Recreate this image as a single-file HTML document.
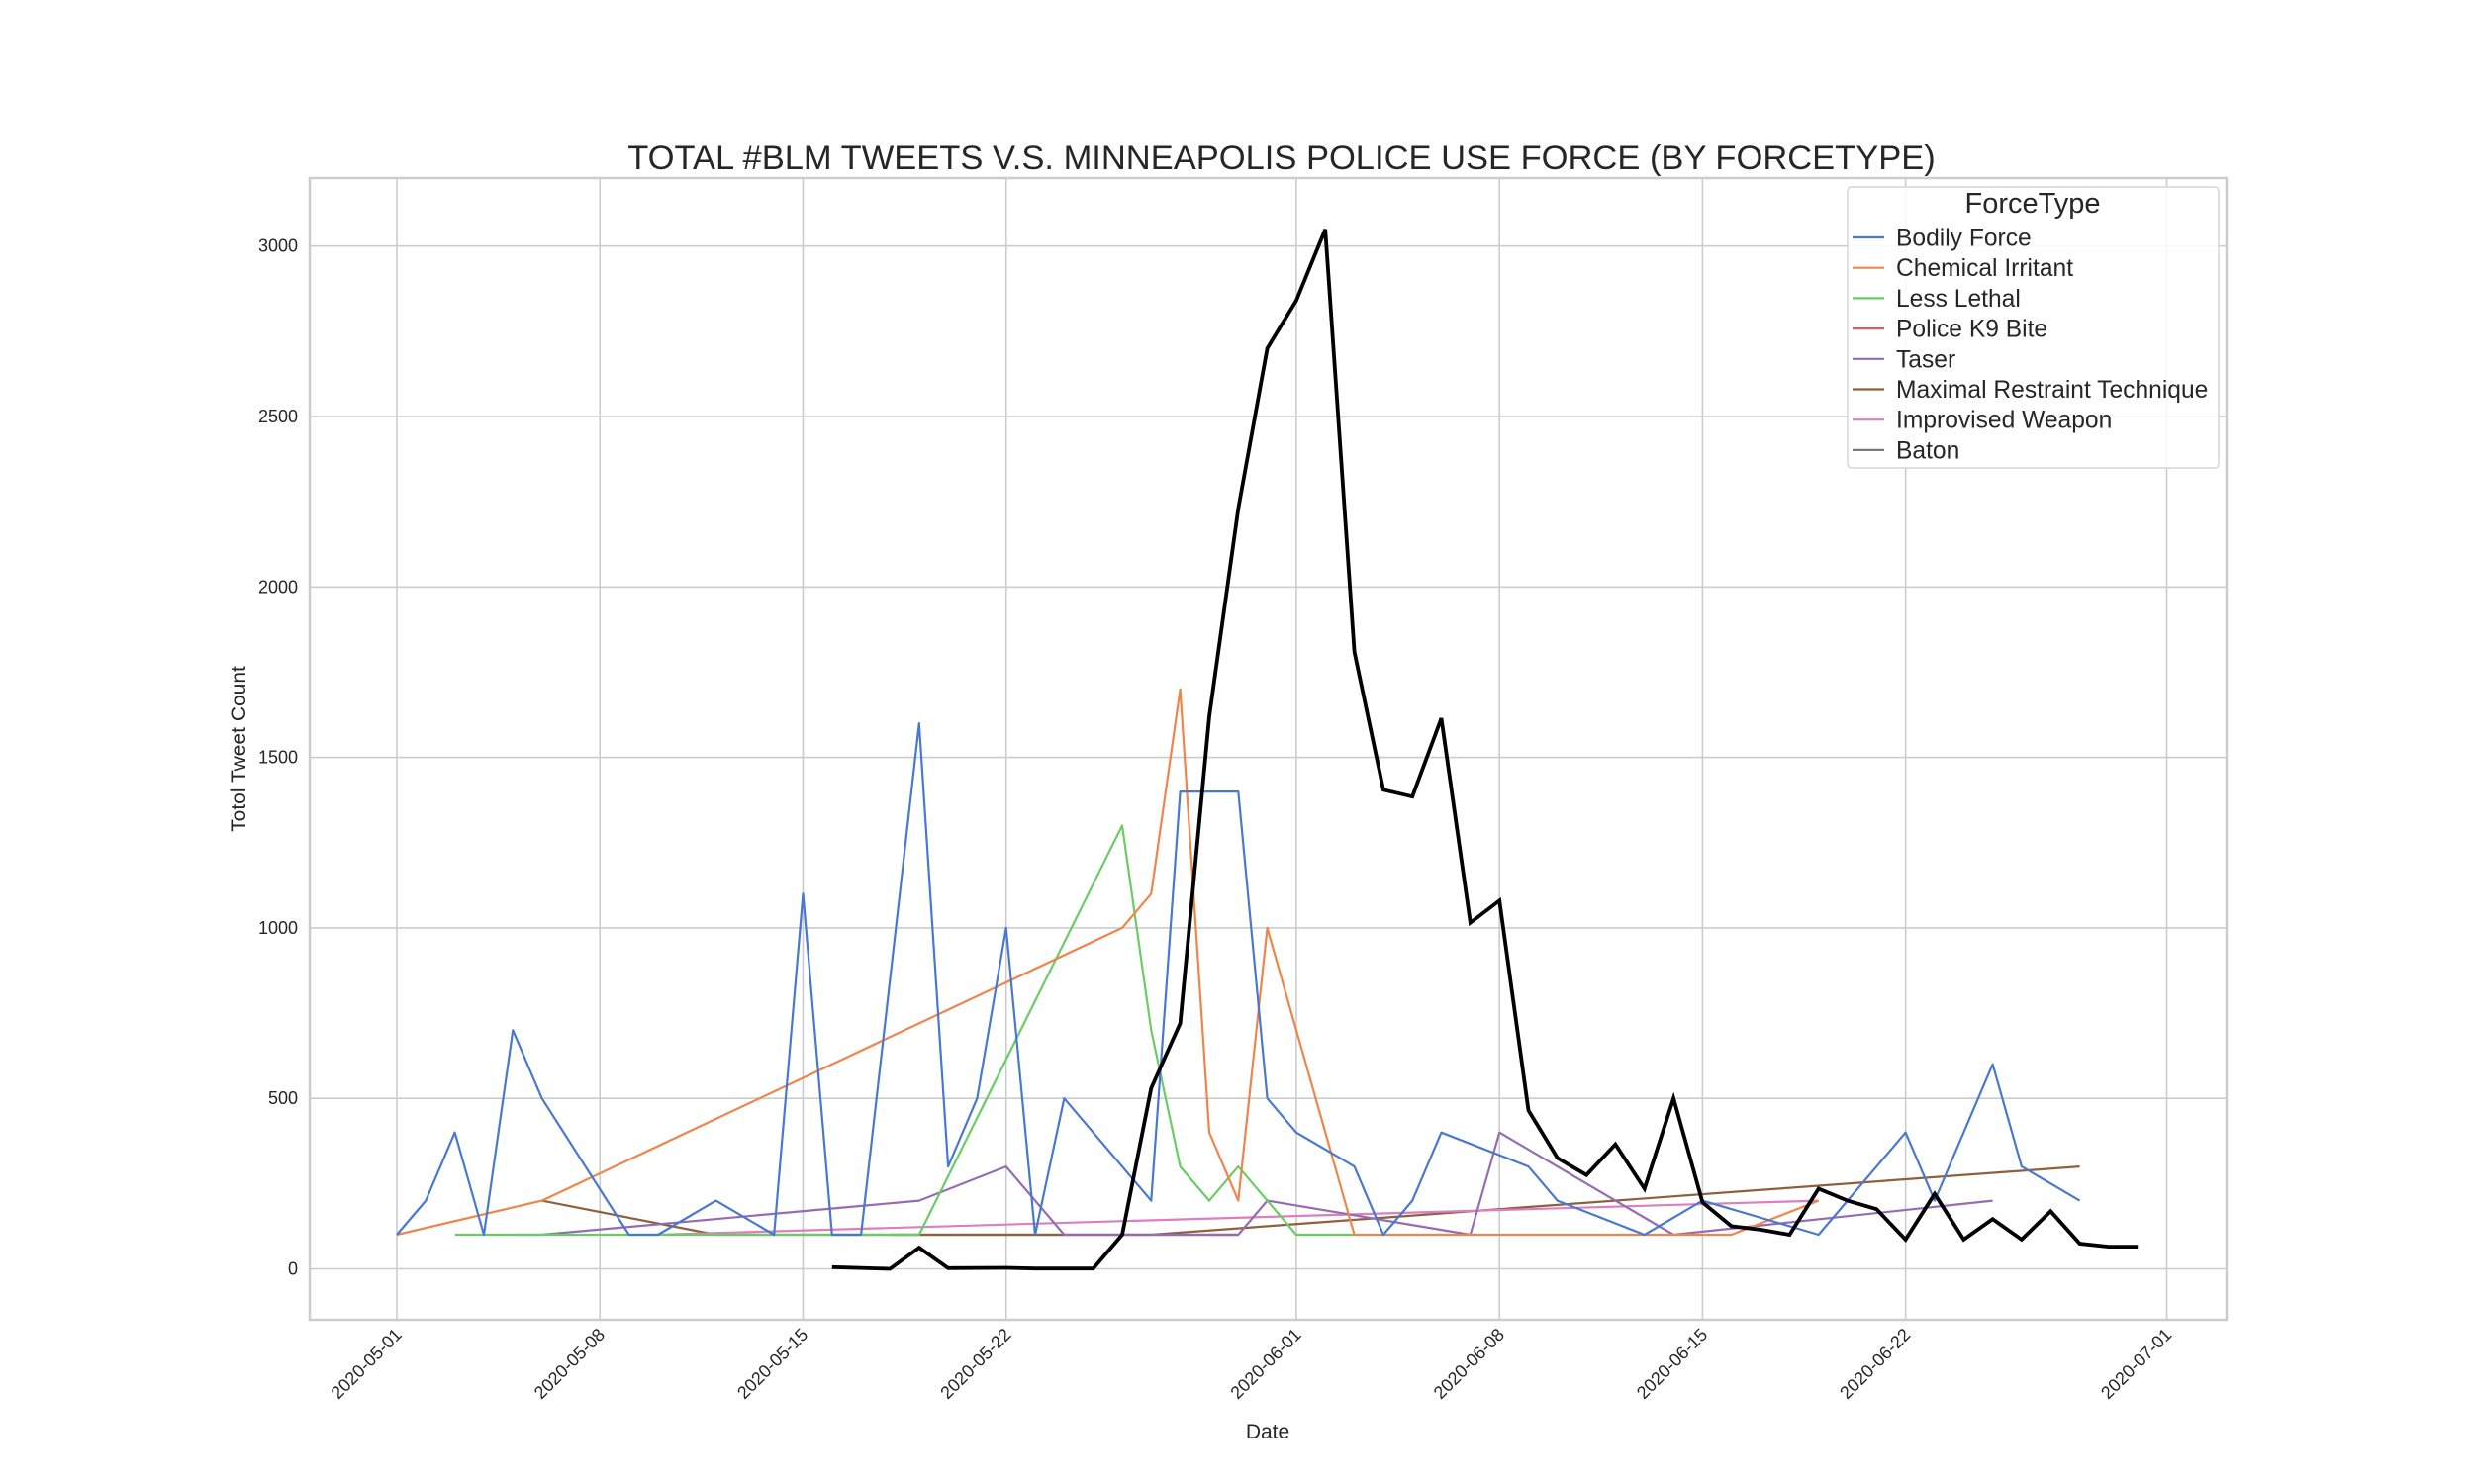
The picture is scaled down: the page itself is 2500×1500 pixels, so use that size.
<!DOCTYPE html>
<html><head><meta charset="utf-8"><style>
html,body{margin:0;padding:0;background:#fff;}
svg{display:block;font-family:"Liberation Sans",Arial,sans-serif;}
</style></head><body>
<svg id="chart" width="2500" height="1500" viewBox="0 0 2500 1500" xmlns="http://www.w3.org/2000/svg">
<rect x="0" y="0" width="2500" height="1500" fill="#fff"/>
<text x="1295" y="171" font-size="34.5" fill="#262626" text-anchor="middle">TOTAL #BLM TWEETS V.S. MINNEAPOLIS POLICE USE FORCE (BY FORCETYPE)</text>
<g id="grid"></g><g id="series"></g><g id="axes"></g><g id="legend"></g>
<text x="0" y="0" font-size="21" fill="#262626" text-anchor="middle" transform="translate(248,757) rotate(-90)">Totol Tweet Count</text>
<text x="1281" y="1454" font-size="21" fill="#262626" text-anchor="middle">Date</text>
</svg>
<script>
// days since 2020-05-01
const xTickDays = [0, 7, 14, 21, 31, 38, 45, 52, 61];
const xTickLabels = ["2020-05-01","2020-05-08","2020-05-15","2020-05-22","2020-06-01","2020-06-08","2020-06-15","2020-06-22","2020-07-01"];
const yTicks = [0, 500, 1000, 1500, 2000, 2500, 3000];
const seriesNames = ["Bodily Force","Chemical Irritant","Less Lethal","Police K9 Bite","Taser","Maximal Restraint Technique","Improvised Weapon","Baton"];
const seriesColors = ["#4878d0","#ee854a","#6acc64","#d65f5f","#956cb4","#8c613c","#dc7ec0","#797979"];
const bodilyDays = [0,1,2,3,4,5,8,9,11,13,14,15,16,18,19,20,21,22,23,26,27,28,29,30,31,33,34,35,36,39,40,43,45,49,52,53,55,56,58];
const bodilyVals = [100,200,400,100,700,500,100,100,200,100,1100,100,100,1600,300,500,1000,100,500,200,1400,1400,1400,500,400,300,100,200,400,300,200,100,200,100,400,200,600,300,200];
const chemDays = [0,5,25,26,27,28,29,30,33,46,49];
const chemVals = [100,200,1000,1100,1700,400,200,1000,100,100,200];
const lessDays = [2,9,18,25,26,27,28,29,30,31,33];
const lessVals = [100,100,100,1300,700,300,200,300,200,100,100];
const k9Days = [28,29];
const k9Vals = [100,100];
const taserDays = [4,5,18,21,23,29,30,37,38,44,55];
const taserVals = [100,100,200,300,100,100,200,100,400,100,200];
const mrtDays = [5,11,26,58];
const mrtVals = [200,100,100,300];
const impDays = [9,49];
const impVals = [100,200];
const batonDays = [17,29];
const batonVals = [100,100];
const tweetDays = [15,17,18,19,21,22,24,25,26,27,28,29,30,31,32,33,34,35,36,37,38,39,40,41,42,43,44,45,46,47,48,49,50,51,52,53,54,55,56,57,58,59,60];
const tweetVals = [5,0,62,2,3,1,1,100,530,720,1620,2230,2700,2840,3049,1810,1405,1385,1615,1015,1080,465,325,275,365,235,500,195,125,115,100,235,200,175,86,220,86,146,86,169,74,65,65];

const L=313,R=2250,T=180,B=1334;
const X = d => 401 + d*29.32;
const Y = v => 1282.5 - v*0.3446;
const NS="http://www.w3.org/2000/svg";
function mk(tag, attrs, parent){const e=document.createElementNS(NS,tag);for(const k in attrs)e.setAttribute(k,attrs[k]);parent.appendChild(e);return e;}
const grid=document.getElementById('grid'), axes=document.getElementById('axes'), ser=document.getElementById('series'), leg=document.getElementById('legend');
mk('rect',{x:L,y:T,width:R-L,height:B-T,fill:'#fff'},grid);
xTickDays.forEach((d,i)=>{
  const g=mk('line',{x1:X(d),x2:X(d),y1:T,y2:B,stroke:'#cccccc','stroke-width':1.6},grid);
  
  
  const t=mk('text',{x:0,y:0,'font-size':18,fill:'#262626','text-anchor':'end',transform:`translate(${X(d)+6},${B+16}) rotate(-45)`},axes);
  
  
  t.textContent=xTickLabels[i];
});
yTicks.forEach(v=>{
  const g=mk('line',{x1:L,x2:R,y1:Y(v),y2:Y(v),stroke:'#cccccc','stroke-width':1.6},grid);
  
  
  const t=mk('text',{x:L-12,y:Y(v)+6,'font-size':18,fill:'#262626','text-anchor':'end'},axes);
  
  
  t.textContent=v;
});
const fr=mk('rect',{x:L,y:T,width:R-L,height:B-T,fill:'none',stroke:'#cccccc','stroke-width':2.5},axes);


const allDays=[bodilyDays,chemDays,lessDays,k9Days,taserDays,mrtDays,impDays,batonDays];
const allVals=[bodilyVals,chemVals,lessVals,k9Vals,taserVals,mrtVals,impVals,batonVals];
const order=[7,3,5,6,4,2,1,0];
order.forEach(i=>{
  const pts=allDays[i].map((d,j)=>X(d).toFixed(1)+','+Y(allVals[i][j]).toFixed(1)).join(' ');
  const p=mk('polyline',{points:pts,fill:'none',stroke:seriesColors[i],'stroke-width':2.2,'stroke-linejoin':'round'},ser);
  
  
});
const tp=mk('polyline',{points:tweetDays.map((d,j)=>X(d).toFixed(1)+','+Y(tweetVals[j]).toFixed(1)).join(' '),fill:'none',stroke:'#000','stroke-width':3.8,'stroke-linejoin':'miter'},ser);


// legend
const lb=mk('rect',{x:1867,y:189,width:375,height:284,rx:4,fill:'#fff','fill-opacity':0.85,stroke:'#d6d6d6','stroke-width':1.5},leg);


const lt=mk('text',{x:2054,y:215,'font-size':29,fill:'#262626','text-anchor':'middle'},leg);


lt.textContent='ForceType';
seriesNames.forEach((n,i)=>{
  const cy=240+i*30.7;
  const ln=mk('line',{x1:1872,x2:1904,y1:cy,y2:cy,stroke:seriesColors[i],'stroke-width':2.2},leg);
  
  
  const t=mk('text',{x:1916,y:cy+8.5,'font-size':24.6,fill:'#262626'},leg);
  
  
  t.textContent=n;
});
</script>
</body></html>
